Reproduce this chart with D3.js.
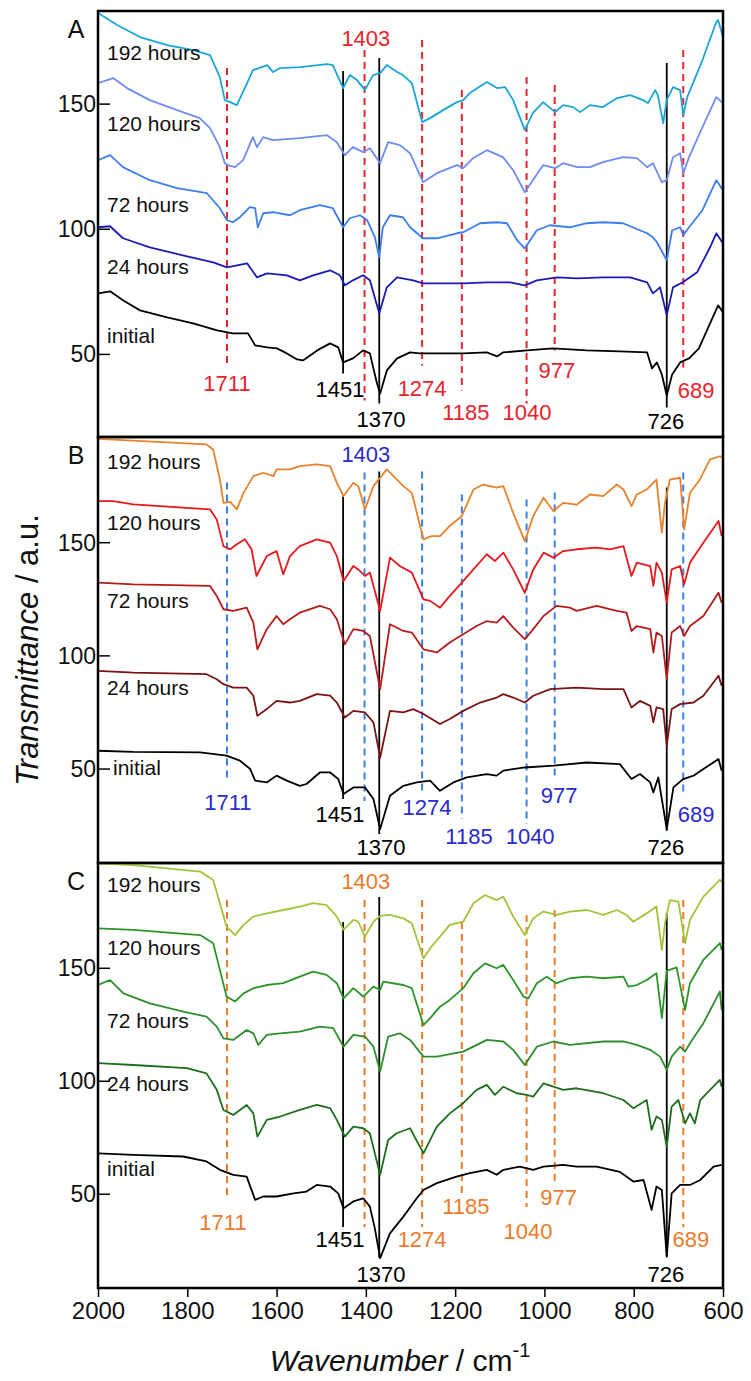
<!DOCTYPE html>
<html><head><meta charset="utf-8">
<script src="https://cdn.jsdelivr.net/npm/d3@7/dist/d3.min.js"></script>
<style>body{margin:0;background:#fff}svg{display:block}text{font-family:"Liberation Sans",Arial,Helvetica,sans-serif}</style>
</head><body><svg id="c" width="751" height="1381"></svg>
<script>
// ---------- data ----------
const seriesNames = ["initial","24 hours","72 hours","120 hours","192 hours"];
const xTicks = [2000,1800,1600,1400,1200,1000,800,600];
const yTicks = [50,100,150];
const markerWn = [1711,1451,1403,1370,1274,1185,1040,977,726,689];
const markerSolid = [false,true,false,true,false,false,false,false,true,false];

// Panel A
const A_initial = [[2000,74.4],[1973,75.2],[1944,71.6],[1906,67.6],[1845,64.8],[1787,62.4],[1733,59.6],[1698,58.4],[1664,58.4],[1648,53.6],[1621,52.8],[1599,52.4],[1577,50.4],[1554,48],[1541,47.6],[1509,51.6],[1480,54.4],[1462,52.8],[1451,46.8],[1429,48.4],[1406,51.6],[1391,50.4],[1375,38.4],[1368,34.4],[1353,43.6],[1330,48.4],[1301,50.8],[1279,50.4],[1241,50.4],[1182,50.4],[1129,50.8],[1106,49.2],[1093,50.8],[1039,51.6],[981,52.4],[905,51.6],[831,51.2],[770,50.8],[759,44.4],[748,46.8],[737,42],[726,33.6],[714,42],[696,46.8],[676,48.4],[654,52.4],[629,62.4],[611,69.6],[600,66.8]];
const A_24h = [[2000,100.8],[1973,101.2],[1944,96.4],[1884,92.8],[1810,89.6],[1742,86.8],[1711,84.8],[1666,86.4],[1644,80.8],[1621,82.4],[1577,81.6],[1548,79.6],[1518,81.6],[1480,83.6],[1458,81.6],[1447,77.6],[1429,79.6],[1406,81.6],[1391,79.6],[1370,66.4],[1353,76.8],[1330,80.8],[1294,79.6],[1272,78.4],[1227,78.4],[1182,78.4],[1129,78.8],[1077,78.8],[1044,77.6],[1017,79.6],[972,80.8],[927,80.4],[869,80.8],[808,80.8],[770,78.8],[757,74.4],[741,76.8],[726,65.6],[712,76.8],[690,78.8],[658,82.8],[629,92.8],[615,98.4],[600,94.4]];
const A_72h = [[2000,127.6],[1973,129.6],[1944,124.8],[1884,119.6],[1823,116.4],[1756,114.4],[1727,108.4],[1711,103.6],[1698,102.8],[1682,104.8],[1660,108.8],[1648,108.4],[1642,100.8],[1630,106.4],[1608,106.8],[1570,105.6],[1548,107.6],[1503,109.6],[1474,108.4],[1451,100.8],[1436,104.4],[1413,105.6],[1397,103.6],[1380,97],[1370,88.8],[1362,100.8],[1346,105.6],[1317,104.8],[1301,100.8],[1272,96.4],[1241,96.4],[1196,98.4],[1182,98.8],[1144,102.4],[1106,102.8],[1084,102.4],[1061,95.6],[1044,92.4],[1017,99.6],[988,101.6],[943,100.8],[905,102.4],[869,102.8],[824,102.4],[770,98.4],[757,96.8],[748,94.8],[726,87.6],[714,99.6],[696,100.8],[689,97.6],[676,100.8],[646,107.6],[615,119.6],[600,115.6]];
const A_120h = [[2000,158.4],[1966,160.4],[1935,156.4],[1884,151.6],[1823,147.6],[1772,144.4],[1749,140.4],[1727,132.8],[1716,126.4],[1709,125.6],[1693,124.8],[1675,127.6],[1653,136.8],[1644,132.8],[1630,136.8],[1608,135.6],[1548,136.4],[1487,137.6],[1465,134.8],[1447,129.6],[1429,132.8],[1406,130.8],[1391,132.4],[1368,126.4],[1350,134.8],[1324,133.6],[1301,130.4],[1272,118.8],[1241,122.4],[1196,125.6],[1182,124.4],[1160,128.4],[1129,131.6],[1093,128.8],[1070,123.6],[1044,114.8],[1026,119.6],[1003,125.6],[976,124.4],[958,126.4],[927,124.8],[898,124.8],[869,126.8],[824,128.8],[793,128.4],[770,124.8],[757,126.4],[737,118.8],[726,119.6],[712,128.8],[696,130.4],[689,122.4],[676,128.8],[646,140.8],[615,152.8],[600,150.4]];
const A_192h = [[2000,186.4],[1957,181.6],[1906,176.8],[1845,173.6],[1787,171.6],[1749,169.6],[1727,160.8],[1716,151.6],[1704,150.8],[1689,149.6],[1666,158.4],[1653,163.6],[1621,165.6],[1608,162.8],[1592,164.4],[1548,164.8],[1487,166],[1474,165.6],[1451,156.4],[1436,161.6],[1420,159.6],[1402,155.6],[1384,161.6],[1368,162.4],[1353,165.6],[1330,162.8],[1317,161.6],[1297,158.4],[1274,142.8],[1256,144.4],[1227,147.6],[1196,150.8],[1182,151.6],[1167,154.4],[1129,158.8],[1106,156.4],[1088,156.8],[1070,151.6],[1044,139.6],[1026,146.4],[1003,150.8],[976,146.8],[958,149.6],[936,148.8],[920,146.8],[898,149.6],[869,148.8],[837,152.4],[808,153.6],[779,151.6],[768,150.4],[752,155.6],[746,153.6],[734,142.4],[726,151.6],[712,156.8],[696,155.6],[689,145.6],[680,152.8],[646,167.6],[615,182.8],[611,183.6],[600,176.8]];

// Panel B
const B_initial = [[2000,58.1],[1921,57.6],[1771,57.4],[1712,55.9],[1682,53.7],[1659,50],[1648,44.9],[1622,44.1],[1600,47.1],[1577,44.9],[1548,42.6],[1533,43.4],[1503,48.5],[1480,48.5],[1462,45.6],[1450,39],[1428,41.9],[1402,41.9],[1383,36.8],[1368,23.5],[1346,38.2],[1316,42.6],[1286,44.1],[1256,44.9],[1234,40.4],[1204,44.1],[1174,46.3],[1129,47.8],[1107,47.1],[1092,49.3],[1044,50.7],[980,51.5],[905,52.9],[831,52.2],[805,45.6],[786,47.8],[763,44.1],[756,39.7],[745,46.3],[726,23.5],[711,41.9],[689,45.6],[666,47.1],[644,50],[610,54.4],[603,49.3]];
const B_24h = [[2000,93.4],[1921,92.6],[1757,91.9],[1734,89.7],[1719,87.5],[1697,86],[1667,86],[1652,82.4],[1643,73.5],[1622,76.5],[1600,80.1],[1570,79.4],[1548,80.1],[1510,83.1],[1480,82.4],[1465,79.4],[1447,72.8],[1428,75.7],[1402,75],[1383,70.6],[1368,55.1],[1346,75.7],[1316,75],[1294,76.5],[1271,74.3],[1234,69.9],[1212,72.1],[1182,75.7],[1144,79.4],[1107,81.6],[1092,83.1],[1070,81.6],[1044,79.4],[1025,82.4],[987,85.3],[928,86],[868,85.3],[823,85.3],[805,77.2],[786,80.1],[763,77.9],[756,70.6],[749,77.2],[734,76.5],[726,60.3],[715,76.5],[696,78.7],[666,79.4],[644,82.4],[610,91.2],[603,86.8]];
const B_72h = [[2000,132.4],[1921,131.6],[1749,130.9],[1734,126.5],[1719,120.6],[1697,119.9],[1667,121.3],[1652,114.7],[1643,102.9],[1622,111.8],[1600,117.6],[1585,114],[1570,116.2],[1548,119.1],[1503,122.1],[1480,120.6],[1465,116.2],[1447,105.1],[1428,111.8],[1406,111],[1391,108.8],[1368,85.3],[1346,114],[1316,111],[1297,110.3],[1271,102.9],[1241,101.5],[1212,105.9],[1182,109.6],[1152,113.2],[1129,115.4],[1107,114.7],[1092,117.6],[1070,112.5],[1044,107.4],[1025,111.8],[1002,117.6],[973,122.1],[943,121.3],[928,119.9],[883,122.1],[838,119.9],[816,119.1],[805,111],[793,113.2],[763,111.8],[756,101.5],[749,110.3],[737,108.8],[726,89.7],[715,110.3],[696,113.2],[687,108.8],[674,113.2],[644,117.6],[610,127.9],[603,123.5]];
const B_120h = [[2000,168.4],[1966,168.4],[1921,166.9],[1749,164.7],[1734,160.3],[1719,148.5],[1704,147.1],[1689,149.3],[1671,151.5],[1656,147.1],[1645,135.3],[1622,144.1],[1600,146.3],[1585,136],[1570,144.1],[1548,148.5],[1510,151.5],[1480,150],[1465,144.1],[1450,133.1],[1428,139.7],[1417,138.2],[1402,135.3],[1391,136.8],[1368,119.9],[1346,143.4],[1324,139.7],[1297,136.8],[1271,125],[1256,124.3],[1234,121.3],[1212,126.5],[1185,132.4],[1159,138.2],[1129,144.9],[1111,141.9],[1092,145.6],[1070,138.2],[1044,127.9],[1025,138.2],[1002,145.6],[980,143.4],[958,146.3],[928,147.1],[883,147.8],[853,147.1],[823,148.5],[805,135.3],[793,141.2],[763,139.7],[756,130.9],[749,141.2],[737,136.8],[726,123.5],[715,138.2],[696,139.7],[687,131.6],[674,141.2],[644,150],[610,159.6],[603,152.9]];
const B_192h = [[2000,195.9],[1757,193.4],[1742,191.2],[1727,178],[1719,167.6],[1704,168],[1689,164.7],[1674,172],[1652,179.4],[1630,180.9],[1607,179.4],[1600,182.4],[1570,182.4],[1548,183.8],[1510,184.6],[1480,183.8],[1465,176.5],[1450,170.6],[1428,176.5],[1417,175],[1402,164.7],[1383,175],[1368,178.7],[1353,182.4],[1316,175],[1297,172],[1271,151.5],[1253,152.9],[1234,152.9],[1212,157.4],[1185,161.8],[1159,173.5],[1137,175.7],[1107,174.3],[1092,175],[1070,163.2],[1044,150.7],[1025,161.8],[1002,169.9],[980,164],[958,167.6],[928,166.8],[898,171.3],[868,170.6],[838,175.7],[823,173.5],[805,166.2],[793,171.3],[771,173.5],[749,177.9],[737,154.4],[730,167.6],[719,177.9],[696,178.7],[687,155.9],[674,172],[652,177.9],[629,186.8],[607,188.2],[600,187.6]];

// Panel C
const C_initial = [[2000,68.1],[1921,67.4],[1809,66.7],[1757,64.5],[1727,60.8],[1697,58.6],[1667,57.8],[1648,47.5],[1630,49],[1600,49],[1562,50.4],[1533,51.2],[1510,54.1],[1480,53.4],[1462,50.4],[1450,43.8],[1428,46.8],[1406,48.2],[1391,44.5],[1380,35],[1368,21.7],[1346,32.7],[1316,40.1],[1286,48.2],[1271,51.9],[1241,54.9],[1197,57.8],[1167,59.3],[1129,60.8],[1107,58.6],[1092,60.8],[1055,62.2],[1025,60.8],[1002,62.2],[958,63],[928,62.2],[883,62.2],[831,59.9],[801,55.6],[778,56.3],[760,43.1],[749,53.4],[737,51.9],[726,22.4],[715,50.4],[696,54.1],[674,54.1],[651,56.3],[621,62.2],[603,63]];
const C_24h = [[2000,108],[1921,107.2],[1801,105.8],[1757,103.5],[1734,96.2],[1719,87.3],[1697,85.1],[1667,89.5],[1652,85.8],[1643,75.5],[1622,82.9],[1592,84.4],[1548,87.3],[1510,89.5],[1480,88.1],[1465,82.9],[1447,75.5],[1428,79.9],[1406,79.2],[1391,77],[1368,58.6],[1350,74],[1331,77],[1301,79.2],[1271,68.1],[1241,79.9],[1212,85.8],[1182,90.3],[1152,96.2],[1129,98.4],[1111,94],[1092,97.6],[1062,94.7],[1040,94],[1025,93.2],[1002,99.1],[980,97.6],[958,96.2],[928,96.9],[868,94.7],[823,91.7],[801,88.1],[771,91.7],[760,78.5],[749,84.4],[737,82.9],[726,71.1],[715,88.8],[700,91.7],[685,81.4],[674,85.8],[663,81.4],[651,91.7],[629,96.2],[607,100.6],[603,97.6]];
const C_72h = [[2000,142.6],[1973,144.8],[1943,138.9],[1884,134.5],[1809,130.8],[1757,128.6],[1734,124.2],[1719,119],[1697,118.3],[1667,122.7],[1652,121.2],[1641,116.1],[1622,120.5],[1592,121.2],[1548,122],[1503,124.2],[1473,123.5],[1450,115.3],[1428,120.5],[1402,119.8],[1383,115.3],[1368,104.3],[1350,119.8],[1324,121.2],[1301,118.3],[1271,110.9],[1241,110.9],[1182,113.1],[1129,118.3],[1092,117.6],[1070,113.9],[1044,107.2],[1017,115.3],[980,117.6],[943,116.1],[868,117.6],[823,117.6],[793,116.1],[763,113.9],[741,110.9],[726,105],[715,110.9],[696,115.3],[685,113.1],[674,116.8],[644,125.7],[607,139.7],[603,131.6]];
const C_120h = [[2000,167.7],[1921,167],[1771,164.7],[1742,161.1],[1727,149.3],[1712,137.5],[1693,135.3],[1674,138.9],[1652,141.2],[1622,142.6],[1585,143.4],[1548,146.3],[1518,148.5],[1488,147.1],[1465,143.4],[1450,136.7],[1428,141.2],[1406,137.5],[1383,141.9],[1368,140.4],[1361,144.1],[1316,142.6],[1297,141.2],[1271,124.9],[1253,128.6],[1234,133],[1212,136],[1182,141.2],[1159,147.8],[1133,152.2],[1107,150],[1092,151.5],[1070,144.8],[1047,137.5],[1036,136.7],[1017,143.4],[995,146.3],[973,143.4],[943,145.6],[905,146.3],[868,145.6],[823,146.3],[812,141.9],[793,142.6],[771,144.8],[749,147.8],[737,127.9],[726,148.9],[704,150.4],[685,131.6],[674,143.4],[644,153.7],[607,161.1],[603,158.1]];
const C_192h = [[2000,196.5],[1921,195.7],[1771,192.8],[1742,189.1],[1727,178.8],[1712,168.4],[1693,164.7],[1674,169.2],[1652,172.9],[1622,174.3],[1585,175.8],[1548,177.3],[1518,178.8],[1488,178],[1465,172.9],[1450,167],[1428,171.4],[1417,170.6],[1402,164],[1383,170.6],[1368,173.2],[1346,173.6],[1316,172.1],[1297,169.9],[1271,154.4],[1253,159.6],[1234,164],[1212,169.2],[1182,170.6],[1159,178.8],[1133,182.4],[1107,180.2],[1092,181.7],[1070,172.9],[1044,164.7],[1025,172.1],[1002,175.1],[973,173.6],[943,175.1],[905,175.8],[868,173.6],[838,175.8],[816,173.6],[801,170.6],[771,174.3],[749,177.3],[737,158.1],[730,169.9],[719,180.2],[700,179.5],[685,161.1],[674,171.4],[644,181.7],[607,189.1],[600,188]];

// marker extents (transmittance units) and label anchors per panel
const A_markTop = [164.4,163.2,171.6,168.4,175.6,155.6,160.8,157.6,166.4,171.6];
const A_markBot = [44.8,42.4,31.6,30.4,45.6,35.6,30.4,51.6,28.8,44.8];
const A_labelT  = [38.4,36,176.4,24,36.4,26.8,26.8,43.6,23.2,35.6];
const A_labelWn = [1711,1458,1400,1366,1274,1176,1039,972,728,660];
const B_markTop = [176.6,170.4,181,181.5,181.5,171.3,169.1,172.2,174.4,181];
const B_markBot = [44.3,36.8,35.9,21.3,39,27.9,25.7,46.9,22.7,39.9];
const B_labelT  = [35.4,30.1,189,15.2,32.8,20,20,38.1,15.2,30.1];
const B_labelWn = [1709,1458,1400,1366,1263,1169,1032,967,728,660];
const C_markTop = [180.2,170.5,180.2,181.5,180.2,170.5,173.6,175.8,174.5,180.2];
const C_markBot = [47.5,35.5,35.5,21.8,35.5,50.6,44.4,55,22.3,35.5];
const C_labelT  = [37.7,29.8,188.2,14.3,29.8,44.4,33.3,48.4,14.3,29.8];
const C_labelWn = [1720,1458,1400,1366,1274,1176,1037,968,728,672];

// series label heights (transmittance units)
const A_nameT = [57.6,85.2,110,142.4,170.8];
const B_nameT = [50.9,86.2,124.5,159,185.9];
const C_nameT = [61.6,99.2,127.1,159.4,187.3];

const yDomains = [[17,187.2],[8.5,196.7],[8.5,196.6]];

// ---------- layout / style ----------
const L = 98, R = 723;
const panelTop = [11,437,863], panelBot = [437,863,1288];
const panels = [
  {letter:"A", series:[A_initial,A_24h,A_72h,A_120h,A_192h], colors:["#000000","#1a1ab4","#3a7ef0","#6f8cf0","#1aa5d8"],
   dashColor:"#e8232b", labColor:"#e8232b", top:A_markTop, bot:A_markBot, lT:A_labelT, lW:A_labelWn, nameT:A_nameT},
  {letter:"B", series:[B_initial,B_24h,B_72h,B_120h,B_192h], colors:["#000000","#7a1414","#b51c1c","#e8191c","#e8822c"],
   dashColor:"#3a7fe2", labColor:"#2a2ad0", top:B_markTop, bot:B_markBot, lT:B_labelT, lW:B_labelWn, nameT:B_nameT},
  {letter:"C", series:[C_initial,C_24h,C_72h,C_120h,C_192h], colors:["#000000","#1e6e1e","#2e8e2e","#2a962a","#a3c43a"],
   dashColor:"#eb7b2b", labColor:"#eb7b2b", top:C_markTop, bot:C_markBot, lT:C_labelT, lW:C_labelWn, nameT:C_nameT}
];

const svg = d3.select("#c");
const x = d3.scaleLinear().domain([2000,600]).range([L,R]);

panels.forEach((p,i)=>{
  const y = d3.scaleLinear().domain(yDomains[i]).range([panelBot[i],panelTop[i]]);
  const g = svg.append("g");
  const cid = "clip"+i;
  svg.append("clipPath").attr("id",cid).append("rect")
    .attr("x",L).attr("y",panelTop[i]).attr("width",R-L).attr("height",panelBot[i]-panelTop[i]);

  // marker lines
  markerWn.forEach((w,k)=>{
    g.append("line").attr("x1",x(w)).attr("x2",x(w))
      .attr("y1",y(p.top[k])).attr("y2",y(p.bot[k]))
      .attr("stroke", markerSolid[k] ? "#000" : p.dashColor)
      .attr("stroke-width", markerSolid[k] ? 1.8 : 2)
      .attr("stroke-dasharray", markerSolid[k] ? null : "7,5");
  });

  // spectra
  const line = d3.line().x(d=>x(d[0])).y(d=>y(d[1])).curve(d3.curveLinear);
  const sg = g.append("g").attr("clip-path",`url(#${cid})`);
  p.series.forEach((s,j)=>{
    sg.append("path").datum(s).attr("d",line).attr("fill","none")
      .attr("stroke",p.colors[j]).attr("stroke-width",1.8).attr("stroke-linejoin","round");
  });

  // marker labels
  markerWn.forEach((w,k)=>{
    g.append("text").attr("x",x(p.lW[k])).attr("y",y(p.lT[k]))
      .attr("text-anchor","middle").attr("dominant-baseline","central")
      .attr("font-size",22).attr("fill", markerSolid[k] ? "#000" : p.labColor)
      .text(String(w));
  });

  // series names
  seriesNames.forEach((n,j)=>{
    const xo = (i===1 && j===0) ? 113 : 107;
    g.append("text").attr("x",xo).attr("y",y(p.nameT[j]))
      .attr("dominant-baseline","central").attr("font-size",21).attr("fill","#111").text(n);
  });

  // y ticks
  yTicks.forEach(t=>{
    g.append("line").attr("x1",L).attr("x2",L+12).attr("y1",y(t)).attr("y2",y(t)).attr("stroke","#000").attr("stroke-width",1.5);
    g.append("text").attr("x",L-2).attr("y",y(t)).attr("text-anchor","end").attr("dominant-baseline","central")
      .attr("font-size",23).attr("fill","#111").text(t);
  });

  // frame
  g.append("rect").attr("x",L).attr("y",panelTop[i]).attr("width",R-L).attr("height",panelBot[i]-panelTop[i])
    .attr("fill","none").attr("stroke","#000").attr("stroke-width",2.5);

  // panel letter
  g.append("text").attr("x",76).attr("y",(panelTop[i]+18)).attr("text-anchor","middle").attr("dominant-baseline","central")
    .attr("font-size",25).attr("fill","#111").text(p.letter);
});

// x axis (bottom)
const xa = svg.append("g").attr("transform",`translate(0,${panelBot[2]})`)
  .call(d3.axisBottom(x).tickValues(xTicks).tickSize(9).tickPadding(5).tickFormat(d3.format("d")));
xa.select(".domain").remove();
xa.selectAll(".tick line").attr("stroke","#000").attr("stroke-width",1.5);
xa.selectAll(".tick text").attr("font-size",24).attr("fill","#111").attr("font-family","Liberation Sans, Arial, sans-serif");

// axis titles
const xt = svg.append("text").attr("x",400).attr("y",1371).attr("text-anchor","middle").attr("font-size",30).attr("fill","#111");
xt.append("tspan").attr("font-style","italic").text("Wavenumber");
xt.append("tspan").text(" / cm");
xt.append("tspan").attr("font-size",20).attr("dy",-14).text("-1");

const yt = svg.append("text").attr("transform","translate(38,650) rotate(-90)").attr("text-anchor","middle").attr("font-size",31).attr("fill","#111");
yt.append("tspan").attr("font-style","italic").text("Transmittance");
yt.append("tspan").text(" / a.u.");
</script></body></html>
